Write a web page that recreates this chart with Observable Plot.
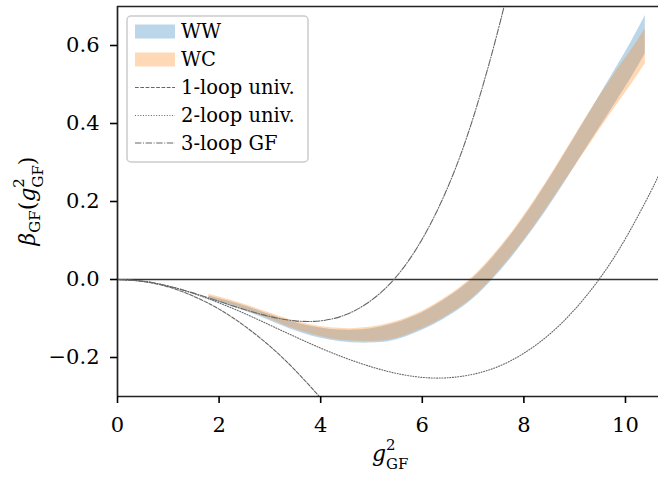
<!DOCTYPE html>
<html><head><meta charset="utf-8">
<script src="https://cdn.jsdelivr.net/npm/d3@7"></script>
<script src="https://cdn.jsdelivr.net/npm/@observablehq/plot@0.6"></script>
<style>
body{margin:0;background:#fff;}
#chart svg{display:block;}
#chart svg text, #chart svg tspan{font-family:'DejaVu Serif','Liberation Serif',serif !important;}
</style></head><body><div id="chart"></div>
<script>
// ---- data ----
const bandX  = [1.8, 2.2, 2.6, 3.0, 3.4, 3.8, 4.2, 4.6, 5.0, 5.4, 5.8, 6.2, 6.6, 7.0, 7.4, 7.8, 8.2, 8.6, 9.0, 9.4, 9.8, 10.1, 10.39];
const wwHigh = [-0.042, -0.056, -0.072, -0.090, -0.107, -0.120, -0.128, -0.130, -0.126, -0.115, -0.097, -0.071, -0.038, 0.003, 0.058, 0.123, 0.197, 0.278, 0.364, 0.451, 0.539, 0.606, 0.677];
const wwLow  = [-0.052, -0.067, -0.085, -0.106, -0.127, -0.144, -0.156, -0.162, -0.163, -0.158, -0.141, -0.118, -0.088, -0.050, 0.002, 0.063, 0.132, 0.208, 0.289, 0.371, 0.452, 0.514, 0.579];
const wcHigh = [-0.038, -0.052, -0.068, -0.086, -0.103, -0.116, -0.124, -0.126, -0.122, -0.111, -0.093, -0.067, -0.034, 0.007, 0.062, 0.127, 0.201, 0.282, 0.367, 0.451, 0.530, 0.585, 0.642];
const wcLow  = [-0.048, -0.063, -0.081, -0.102, -0.123, -0.140, -0.152, -0.158, -0.159, -0.154, -0.137, -0.114, -0.084, -0.046, 0.006, 0.067, 0.136, 0.212, 0.289, 0.366, 0.442, 0.497, 0.553];

const oneLoopX = [0, 0.5, 1, 1.5, 2, 2.5, 3, 3.5, 4, 4.2];
const oneLoopY = [0, -0.005, -0.019, -0.043, -0.076, -0.119, -0.171, -0.233, -0.304, -0.335];

const twoLoopX = [0, 0.5, 1, 1.5, 2, 2.5, 3, 3.5, 4, 4.5, 5, 5.5, 6, 6.5, 7, 7.5, 8, 8.5, 9, 9.5, 10, 10.5, 10.7];
const twoLoopY = [0, -0.0045, -0.017, -0.036, -0.060, -0.087, -0.117, -0.147, -0.176, -0.202, -0.224, -0.241, -0.251, -0.252, -0.243, -0.223, -0.189, -0.141, -0.077, 0.004, 0.105, 0.226, 0.281];

const threeLoopX = [0, 0.5, 1, 1.5, 2, 2.5, 3, 3.5, 4, 4.5, 5, 5.5, 6, 6.5, 7, 7.5, 7.8];
const threeLoopY = [0, -0.0045, -0.0167, -0.035, -0.056, -0.077, -0.095, -0.106, -0.106, -0.090, -0.053, 0.009, 0.104, 0.236, 0.414, 0.643, 0.808];

const xTicks = [0, 2, 4, 6, 8, 10];
const yTicks = [-0.2, 0, 0.2, 0.4, 0.6];
const legendLabels = ["WW", "WC", "1-loop univ.", "2-loop univ.", "3-loop GF"];

// ---- tables ----
const ww = bandX.map((x, i) => ({x, lo: wwLow[i], hi: wwHigh[i]}));
const wc = bandX.map((x, i) => ({x, lo: wcLow[i], hi: wcHigh[i]}));
const one = oneLoopX.map((x, i) => ({x, y: oneLoopY[i]}));
const two = twoLoopX.map((x, i) => ({x, y: twoLoopY[i]}));
const three = threeLoopX.map((x, i) => ({x, y: threeLoopY[i]}));

const FONT = "'DejaVu Serif', 'Liberation Serif', serif";
const lineColor = "#666";
const spine = "#222";
const dashes = {one: "3.7,1.6", two: "1,1.65", three: "6.4,1.6,1,1.6"};

const chart = Plot.plot({
  width: 658, height: 477,
  marginLeft: 117, marginRight: 0, marginTop: 6, marginBottom: 81,
  style: {fontFamily: FONT, fontSize: "21px", background: "#fff", color: "#000"},
  x: {domain: [0, 10.65], label: null},
  y: {domain: [-0.3, 0.7], label: null},
  marks: [
    Plot.areaY(ww, {x: "x", y1: "lo", y2: "hi", fill: "#1f77b4", fillOpacity: 0.3, curve: "natural"}),
    Plot.areaY(wc, {x: "x", y1: "lo", y2: "hi", fill: "#ff7f0e", fillOpacity: 0.3, curve: "natural"}),
    Plot.ruleY([0], {stroke: "#333", strokeWidth: 1.7}),
    Plot.line(one, {x: "x", y: "y", stroke: lineColor, strokeWidth: 1.1, strokeDasharray: dashes.one, curve: "natural", clip: true}),
    Plot.line(two, {x: "x", y: "y", stroke: lineColor, strokeWidth: 1.1, strokeDasharray: dashes.two, curve: "natural", clip: true}),
    Plot.line(three, {x: "x", y: "y", stroke: lineColor, strokeWidth: 1.1, strokeDasharray: dashes.three, curve: "natural", clip: true}),
    Plot.ruleX([0], {stroke: spine, strokeWidth: 1.7}),
    Plot.ruleY([-0.3, 0.7], {stroke: spine, strokeWidth: 1.7}),
    Plot.axisX({ticks: xTicks, tickSize: 7, tickPadding: 14, tickFormat: d => String(d), fontSize: 21, fontFamily: FONT, fontVariant: "normal", strokeWidth: 1.6, label: null}),
    Plot.axisY({ticks: yTicks, tickSize: 7, tickPadding: 11, tickFormat: d => d3.format(".1f")(d), fontSize: 21, fontFamily: FONT, fontVariant: "normal", strokeWidth: 1.6, label: null})
  ]
});
document.getElementById("chart").appendChild(chart);

const svg = d3.select(chart);
svg.style("font-family", FONT);
svg.selectAll("text, tspan").style("font-family", FONT).attr("fill", "#000");

// ---- axis titles ----
const yl = svg.append("text")
  .attr("transform", "translate(35,201) rotate(-90)")
  .attr("text-anchor", "middle")
  .style("font-family", FONT).style("font-size", "22px").attr("fill", "#000");
yl.append("tspan").attr("font-style", "italic").text("β");
yl.append("tspan").attr("font-size", "15px").attr("dy", 5).text("GF");
yl.append("tspan").attr("dy", -5).text("(");
yl.append("tspan").attr("font-style", "italic").text("g");
yl.append("tspan").attr("font-size", "15px").attr("dy", -11).text("2");
yl.append("tspan").attr("font-size", "15px").attr("dx", -9.5).attr("dy", 19).text("GF");
yl.append("tspan").attr("dy", -8).text(")");

const xg = svg.append("g").style("font-family", FONT).attr("fill", "#000");
xg.append("text").attr("x", 372).attr("y", 461).attr("text-anchor", "start")
  .style("font-size", "22px").attr("font-style", "italic").text("g");
xg.append("text").attr("x", 386).attr("y", 450).attr("text-anchor", "start")
  .style("font-size", "15px").text("2");
xg.append("text").attr("x", 386).attr("y", 469).attr("text-anchor", "start")
  .style("font-size", "15px").text("GF");

// ---- legend ----
const lg = svg.append("g").style("font-family", FONT).style("font-size", "19.5px").attr("text-anchor", "start");
lg.append("rect").attr("x", 127).attr("y", 16).attr("width", 181).attr("height", 146)
  .attr("rx", 4).attr("fill", "#fff").attr("fill-opacity", 0.8)
  .attr("stroke", "#cccccc").attr("stroke-width", 1.5);
const rows = [31.5, 59.5, 87.5, 115.5, 143];
const entries = [
  {type: "patch", color: "#1f77b4"},
  {type: "patch", color: "#ff7f0e"},
  {type: "line", dash: dashes.one},
  {type: "line", dash: dashes.two},
  {type: "line", dash: dashes.three}
];
entries.forEach((e, i) => {
  const y = rows[i];
  if (e.type === "patch") {
    lg.append("rect").attr("x", 135).attr("y", y - 7).attr("width", 40).attr("height", 14)
      .attr("fill", e.color).attr("fill-opacity", 0.3);
  } else {
    lg.append("line").attr("x1", 135).attr("x2", 175).attr("y1", y).attr("y2", y)
      .attr("stroke", lineColor).attr("stroke-width", 1.1).attr("stroke-dasharray", e.dash);
  }
  lg.append("text").attr("x", 181).attr("y", y).attr("dy", "0.35em")
    .attr("text-anchor", "start").attr("fill", "#000").text(legendLabels[i]);
});
</script>
</body></html>
